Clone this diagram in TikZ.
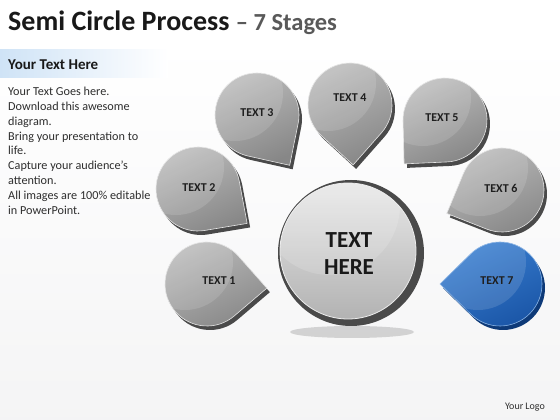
\documentclass[tikz,border=0pt]{standalone}
\usepackage{fontspec}
\setmainfont{Carlito}
\usetikzlibrary{calc}
\definecolor{rimgray}{HTML}{4A4A4A}
\definecolor{petlight}{HTML}{BDBDBD}
\definecolor{petdark}{HTML}{878787}
\definecolor{blueL}{HTML}{3A80D2}
\definecolor{blueD}{HTML}{1A55A6}
\definecolor{blueRim}{HTML}{0E3A78}
\definecolor{txtgray}{HTML}{2E2E2E}
\definecolor{bandblue}{HTML}{CFE3F6}
\newcommand\mypetal[9]{%
 \pgfmathsetmacro\aA{#4+45.6}%
 \pgfmathsetmacro\aB{#4+314.4}%
 \coordinate (#1c) at (#2,#3);
 \fill[#8] ($(#1c)+(3,-4)+(#4:60)$) -- ($(#1c)+(3,-4)+(\aA:42)$) arc[start angle=\aA,end angle=\aB,radius=42pt] -- cycle;
 \shade[#9] ($(#1c)+(#4:60)$) -- ($(#1c)+(\aA:42)$) arc[start angle=\aA,end angle=\aB,radius=42pt] -- cycle;
 \begin{scope}
  \clip ($(#1c)+(#4:60)$) -- ($(#1c)+(\aA:42)$) arc[start angle=\aA,end angle=\aB,radius=42pt] -- cycle;
  \fill[white, opacity=0.13] ($(#1c)+(-22,22)$) circle[radius=48pt];
 \end{scope}
 \node[petlabel] (#1) at (#6,#7) {#5};
}
\tikzset{
 petlabel/.style={font=\bfseries\fontsize{12}{14}\selectfont, text=black!88},
 graypet/.style={top color=petlight, bottom color=petdark, shading angle=25, draw=white!80!gray, line width=0.6pt},
 bluepet/.style={top color=blueL, bottom color=blueD, shading angle=25, draw=blueL!60!white, line width=0.6pt},
}
\begin{document}
\begin{tikzpicture}[x=1pt,y=1pt]
\useasboundingbox (0,0) rectangle (560,420);
% background
\shade[top color=white, bottom color=blue!4!gray!8] (0,0) rectangle (560,378);
\fill[white] (0,378) rectangle (560,420);
% title
\node[anchor=base west, inner sep=0] (title) at (8,389) {\bfseries\fontsize{28}{30}\selectfont\color{black!90}Semi Circle Process \color{black!65}\fontsize{24.5}{28}\selectfont – 7 Stages};
% header band
\shade[left color=bandblue, right color=white] (0,342) rectangle (168,370);
\node[anchor=base west, inner sep=0] (head) at (8,350) {\bfseries\fontsize{15}{18}\selectfont\color{black!90}Your Text Here};
\node[anchor=north west, inner sep=0, align=left, font=\fontsize{12.2}{14.8}\selectfont, text=txtgray] (body) at (8,333)
 {Your Text Goes here.\\Download this awesome\\diagram.\\Bring your presentation to\\life.\\Capture your audience’s\\attention.\\All images are 100\% editable\\in PowerPoint.};
\node[anchor=base, inner sep=0, font=\fontsize{10}{12}\selectfont, text=txtgray] (logo) at (525,10) {Your Logo};
% center circle
\fill[black, opacity=0.15] (352,88) ellipse[x radius=62pt, y radius=6pt];
\fill[rimgray] (351,167) circle[radius=73pt];
\shade[top color=black!9, bottom color=black!30, draw=white!85!gray, line width=0.8pt] (348,169) circle[radius=68pt];
\begin{scope}
 \clip (348,169) circle[radius=68pt];
 \fill[white, opacity=0.15] (330,215) circle[radius=70pt];
\end{scope}
\node[font=\bfseries\fontsize{23}{27}\selectfont, text=black!90, align=center] (center) at (349,166) {TEXT\\HERE};
% petals
\mypetal{p1}{207}{136}{-4}{TEXT 1}{219}{139}{rimgray}{graypet}
\mypetal{p2}{198}{231}{-35}{TEXT 2}{199}{232}{rimgray}{graypet}
\mypetal{p3}{257}{305}{-57}{TEXT 3}{257}{307}{rimgray}{graypet}
\mypetal{p4}{350}{315}{-87}{TEXT 4}{350}{322}{rimgray}{graypet}
\mypetal{p5}{445}{300}{-133}{TEXT 5}{442}{302}{rimgray}{graypet}
\mypetal{p6}{502}{230}{-157}{TEXT 6}{501}{232}{rimgray}{graypet}
\mypetal{p7}{500}{136}{180}{TEXT 7}{497}{139}{blueRim}{bluepet}
\end{tikzpicture}
\end{document}
